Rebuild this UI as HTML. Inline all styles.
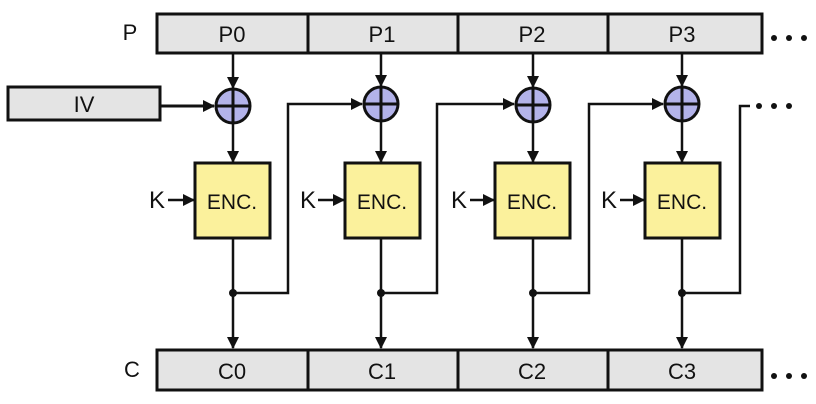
<!DOCTYPE html>
<html><head><meta charset="utf-8"><style>
html,body{margin:0;padding:0;background:#fff;width:816px;height:404px;overflow:hidden}
text{font-family:"Liberation Sans",sans-serif;fill:#111}
</style></head><body>
<svg width="816" height="404" viewBox="0 0 816 404" xmlns="http://www.w3.org/2000/svg">
<defs>
<marker id="a" markerWidth="12" markerHeight="14" refX="11" refY="6" orient="auto" markerUnits="userSpaceOnUse" viewBox="0 0 12 12">
<path d="M0,0 L12,6 L0,12 Z" fill="#111"/></marker>
</defs>
<g stroke="#111" stroke-width="3" fill="none">
<rect x="157" y="14" width="605" height="39" fill="#e4e4e4"/>
<line x1="308" y1="14" x2="308" y2="53"/><line x1="458" y1="14" x2="458" y2="53"/><line x1="608" y1="14" x2="608" y2="53"/>
<rect x="157" y="350" width="605" height="40" fill="#e4e4e4"/>
<line x1="308" y1="350" x2="308" y2="390"/><line x1="458" y1="350" x2="458" y2="390"/><line x1="608" y1="350" x2="608" y2="390"/>
<rect x="8" y="87" width="152" height="33" fill="#e4e4e4"/>
<line x1="160" y1="106" x2="214" y2="106" marker-end="url(#a)"/>
</g>
<g stroke="#111" stroke-width="2.5" fill="none">
<line x1="233" y1="53" x2="233" y2="88" marker-end="url(#a)"/>
<line x1="233" y1="124" x2="233" y2="162" marker-end="url(#a)"/>
<line x1="233" y1="238" x2="233" y2="348" marker-end="url(#a)"/>
<polyline points="233,293 288,293 288,104 362,104" marker-end="url(#a)"/>
<line x1="168" y1="200" x2="194" y2="200" marker-end="url(#a)"/>

<line x1="381" y1="53" x2="381" y2="86" marker-end="url(#a)"/>
<line x1="381" y1="122" x2="381" y2="162" marker-end="url(#a)"/>
<line x1="381" y1="238" x2="381" y2="348" marker-end="url(#a)"/>
<polyline points="381,293 437,293 437,104 514,104" marker-end="url(#a)"/>
<line x1="318" y1="200" x2="344" y2="200" marker-end="url(#a)"/>

<line x1="533" y1="53" x2="533" y2="87" marker-end="url(#a)"/>
<line x1="533" y1="123" x2="533" y2="162" marker-end="url(#a)"/>
<line x1="533" y1="238" x2="533" y2="348" marker-end="url(#a)"/>
<polyline points="533,293 589,293 589,104 663,104" marker-end="url(#a)"/>
<line x1="470" y1="200" x2="494" y2="200" marker-end="url(#a)"/>

<line x1="682" y1="53" x2="682" y2="86" marker-end="url(#a)"/>
<line x1="682" y1="122" x2="682" y2="162" marker-end="url(#a)"/>
<line x1="682" y1="238" x2="682" y2="348" marker-end="url(#a)"/>
<polyline points="682,293 740,293 740,106 750,106"/>
<line x1="620" y1="200" x2="644" y2="200" marker-end="url(#a)"/>
</g>
<g stroke="#111" stroke-width="3">
<rect x="195" y="163" width="75" height="75" fill="#fbf19c"/>
<rect x="345" y="163" width="75" height="75" fill="#fbf19c"/>
<rect x="495" y="163" width="75" height="75" fill="#fbf19c"/>
<rect x="645" y="163" width="75" height="75" fill="#fbf19c"/>
<circle cx="233" cy="106" r="17" fill="#b3b3ea"/>
<circle cx="381" cy="104" r="17" fill="#b3b3ea"/>
<circle cx="533" cy="105" r="17" fill="#b3b3ea"/>
<circle cx="682" cy="104" r="17" fill="#b3b3ea"/>
<path d="M217,106h32M233,90v32M365,104h32M381,88v32M517,105h32M533,89v32M666,104h32M682,88v32" fill="none"/>
</g>
<g fill="#111">
<circle cx="233" cy="293" r="4"/><circle cx="381" cy="293" r="4"/><circle cx="533" cy="293" r="4"/><circle cx="682" cy="293" r="4"/>
<circle cx="774" cy="38" r="3"/><circle cx="789" cy="38" r="3"/><circle cx="804" cy="38" r="3"/>
<circle cx="759" cy="106" r="3"/><circle cx="774" cy="106" r="3"/><circle cx="789" cy="106" r="3"/>
<circle cx="774" cy="376" r="3"/><circle cx="789" cy="376" r="3"/><circle cx="804" cy="376" r="3"/>
</g>
<g font-size="22" text-anchor="middle">
<text x="130" y="40">P</text>
<text x="232" y="42">P0</text><text x="382" y="42">P1</text><text x="532" y="42">P2</text><text x="682" y="42">P3</text>
<text x="84" y="112">IV</text>
<text x="132" y="377">C</text>
<text x="232" y="379">C0</text><text x="382" y="379">C1</text><text x="532" y="379">C2</text><text x="682" y="379">C3</text>
<text x="157" y="208" font-size="24">K</text><text x="308" y="208" font-size="24">K</text><text x="459" y="208" font-size="24">K</text><text x="609" y="208" font-size="24">K</text>
<text x="232" y="209" font-size="21">ENC.</text><text x="382" y="209" font-size="21">ENC.</text><text x="532" y="209" font-size="21">ENC.</text><text x="682" y="209" font-size="21">ENC.</text>
</g>
</svg>
</body></html>
